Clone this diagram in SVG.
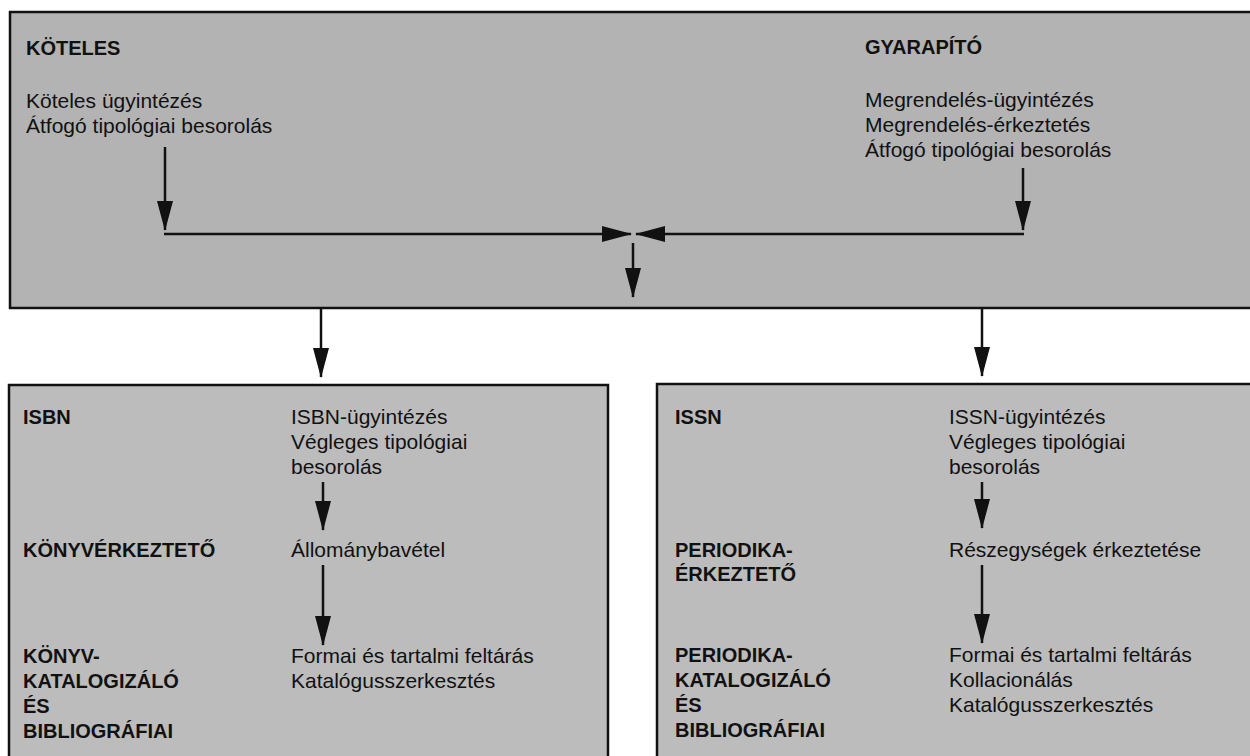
<svg xmlns="http://www.w3.org/2000/svg" width="1250" height="756" viewBox="0 0 1250 756">
  <style>
    .box { stroke: #111; stroke-width: 2.5; }
    .top { fill: #b3b3b3; }
    .low { fill: #bcbcbc; }
    .h { font-family: "Liberation Sans", Arial, Helvetica, sans-serif; font-weight: bold; font-size: 20px; fill: #111; }
    .t { font-family: "Liberation Sans", Arial, Helvetica, sans-serif; font-size: 21px; fill: #111; }
    .ln { stroke: #111; stroke-width: 2.5; fill: none; }
    .arr { marker-end: url(#head); }
  </style>
  <defs>
    <marker id="head" markerUnits="userSpaceOnUse" markerWidth="30" markerHeight="16" viewBox="0 0 30 16" refX="29" refY="8" orient="auto">
      <path d="M0,0 L30,8 L0,16 Z" fill="#111"/>
    </marker>
  </defs>

  <rect width="1250" height="756" fill="#ffffff"/>

  <!-- upper department block -->
  <g id="node-top">
    <rect class="box top" x="10" y="12" width="1250" height="296"/>
    <g id="node-koteles">
      <text class="h" x="26" y="55">KÖTELES</text>
      <text class="t" x="26" y="108">Köteles ügyintézés</text>
      <text class="t" x="26" y="133">Átfogó tipológiai besorolás</text>
    </g>
    <g id="node-gyarapito">
      <text class="h" x="865" y="54">GYARAPÍTÓ</text>
      <text class="t" x="865" y="107">Megrendelés-ügyintézés</text>
      <text class="t" x="865" y="132">Megrendelés-érkeztetés</text>
      <text class="t" x="865" y="157">Átfogó tipológiai besorolás</text>
    </g>
  </g>

  <!-- book branch -->
  <g id="node-isbn-block">
    <rect class="box low" x="9" y="385" width="599" height="400"/>
    <g id="node-isbn">
      <text class="h" x="23" y="424">ISBN</text>
      <text class="t" x="291" y="424">ISBN-ügyintézés</text>
      <text class="t" x="291" y="449">Végleges tipológiai</text>
      <text class="t" x="291" y="474">besorolás</text>
    </g>
    <g id="node-konyverkezteto">
      <text class="h" x="23" y="557">KÖNYVÉRKEZTETŐ</text>
      <text class="t" x="291" y="557">Állománybavétel</text>
    </g>
    <g id="node-konyvkatalogizalo">
      <text class="h" x="23" y="663">KÖNYV-</text>
      <text class="h" x="23" y="688">KATALOGIZÁLÓ</text>
      <text class="h" x="23" y="713">ÉS</text>
      <text class="h" x="23" y="738">BIBLIOGRÁFIAI</text>
      <text class="t" x="291" y="663">Formai és tartalmi feltárás</text>
      <text class="t" x="291" y="688">Katalógusszerkesztés</text>
    </g>
  </g>

  <!-- serial branch -->
  <g id="node-issn-block">
    <rect class="box low" x="657" y="384" width="620" height="400"/>
    <g id="node-issn">
      <text class="h" x="675" y="424">ISSN</text>
      <text class="t" x="949" y="424">ISSN-ügyintézés</text>
      <text class="t" x="949" y="449">Végleges tipológiai</text>
      <text class="t" x="949" y="474">besorolás</text>
    </g>
    <g id="node-periodikaerkezteto">
      <text class="h" x="675" y="557">PERIODIKA-</text>
      <text class="h" x="675" y="581">ÉRKEZTETŐ</text>
      <text class="t" x="949" y="557">Részegységek érkeztetése</text>
    </g>
    <g id="node-periodikakatalogizalo">
      <text class="h" x="675" y="662">PERIODIKA-</text>
      <text class="h" x="675" y="687">KATALOGIZÁLÓ</text>
      <text class="h" x="675" y="712">ÉS</text>
      <text class="h" x="675" y="737">BIBLIOGRÁFIAI</text>
      <text class="t" x="949" y="662">Formai és tartalmi feltárás</text>
      <text class="t" x="949" y="687">Kollacionálás</text>
      <text class="t" x="949" y="712">Katalógusszerkesztés</text>
    </g>
  </g>

  <!-- connectors -->
  <g id="connectors">
    <line class="ln arr" x1="165" y1="147" x2="165" y2="230"/>
    <line class="ln arr" x1="1023" y1="168" x2="1023" y2="230"/>
    <line class="ln arr" x1="164" y1="234" x2="631" y2="234"/>
    <line class="ln arr" x1="1024" y1="234" x2="636" y2="234"/>
    <line class="ln arr" x1="633" y1="243" x2="633" y2="297"/>

    <line class="ln arr" x1="321" y1="308" x2="321" y2="377"/>
    <line class="ln arr" x1="982" y1="308" x2="982" y2="376"/>

    <line class="ln arr" x1="323" y1="482" x2="323" y2="530"/>
    <line class="ln arr" x1="323" y1="565" x2="323" y2="645"/>
    <line class="ln arr" x1="982" y1="482" x2="982" y2="528"/>
    <line class="ln arr" x1="982" y1="565" x2="982" y2="643"/>
  </g>
</svg>
